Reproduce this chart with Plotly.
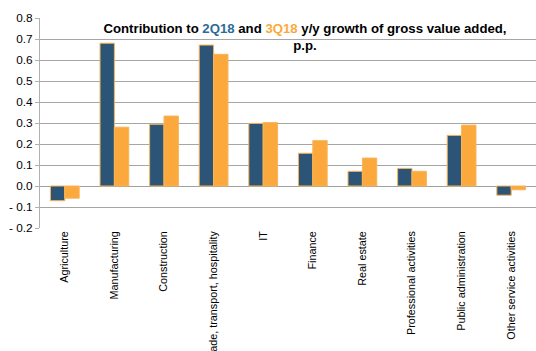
import plotly.graph_objects as go

categories = ["Agriculture", "Manufacturing", "Construction", "Trade, transport, hospitality",
              "IT", "Finance", "Real estate", "Professional activities",
              "Public administration", "Other service activities"]
q2_2018 = [-0.07, 0.68, 0.294, 0.671, 0.298, 0.156, 0.07, 0.084, 0.241, -0.044]
q3_2018 = [-0.058, 0.28, 0.333, 0.627, 0.302, 0.216, 0.133, 0.07, 0.29, -0.018]
ytick_vals = [-0.2, -0.1, 0.0, 0.1, 0.2, 0.3, 0.4, 0.5, 0.6, 0.7, 0.8]
ytick_text = ["- 0.2", "- 0.1", "0.0", "0.1", "0.2", "0.3", "0.4", "0.5", "0.6", "0.7", "0.8"]

BLUE = "#2C5477"
ORANGE = "#FBA93C"
EDGE = "#F7B45A"
FONT = "Liberation Sans, Arial, sans-serif"

x = list(range(len(categories)))

fig = go.Figure()
fig.add_trace(go.Bar(x=x, y=q2_2018, name="2Q18", marker=dict(color=BLUE, line=dict(color=EDGE, width=1))))
fig.add_trace(go.Bar(x=x, y=q3_2018, name="3Q18", marker=dict(color=ORANGE, line=dict(color=EDGE, width=1))))

fig.update_layout(
    width=536, height=351,
    margin=dict(l=40, r=0, t=18, b=123),
    paper_bgcolor="white", plot_bgcolor="white",
    showlegend=False,
    barmode="group", bargap=0.42, bargroupgap=0.0,
    font=dict(family=FONT, size=11, color="#000000"),
    title=dict(
        text="<b>Contribution to <span style='color:#2E6A99'>2Q18</span> and "
             "<span style='color:#FBA93C'>3Q18</span> y/y growth of gross value added,<br>p.p.</b>",
        x=305 / 536, xanchor="center", y=1 - 33 / 351, yanchor="top",
        font=dict(family=FONT, size=13.2, color="#000000"),
    ),
    xaxis=dict(
        range=[-0.5, 9.5], tickvals=x, ticktext=categories, tickangle=-90,
        showgrid=False, zeroline=False, showline=False, ticks="",
        tickfont=dict(family=FONT, size=10.8, color="#000000"),
        automargin=False,
    ),
    xaxis2=dict(
        overlaying="x", anchor="free", position=0.2, range=[-0.5, 9.5],
        tickvals=[i + 0.5 for i in x[:-1]], showticklabels=False,
        ticks="outside", ticklen=4, tickcolor="#A0A0A0", showgrid=False,
        zeroline=False, showline=False,
    ),
    yaxis=dict(
        range=[-0.2, 0.8], tickvals=ytick_vals, ticktext=ytick_text,
        showgrid=True, gridcolor="#A6A6A6", gridwidth=1,
        zeroline=True, zerolinecolor="#A0A0A0", zerolinewidth=1,
        showline=True, linecolor="#B0B0B0", linewidth=1,
        ticks="outside", ticklen=4, tickcolor="#B0B0B0",
        tickfont=dict(family=FONT, size=11.8, color="#000000"),
        automargin=False,
    ),
)

fig.write_html("out.html")
